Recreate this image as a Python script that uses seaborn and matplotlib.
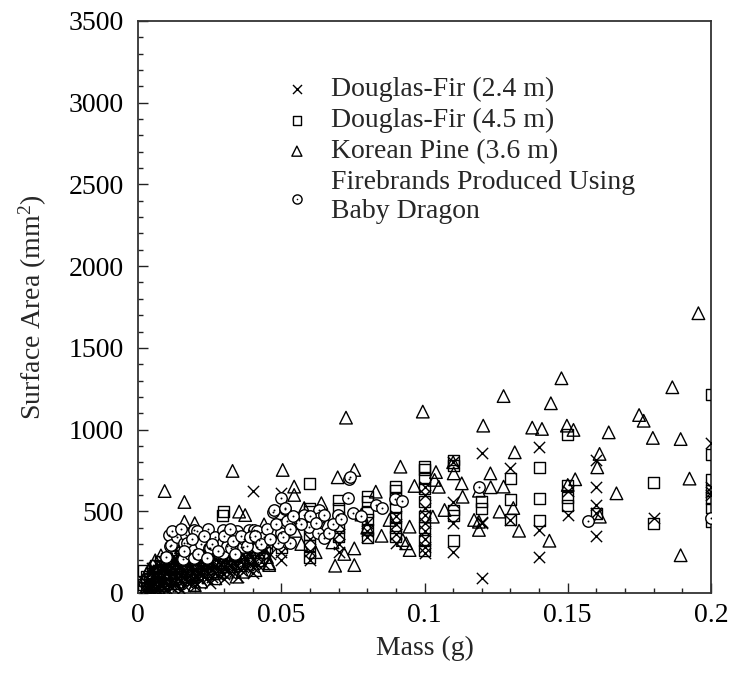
import matplotlib
matplotlib.use("Agg")
import matplotlib.pyplot as plt
import seaborn as sns
import pandas as pd
from matplotlib.ticker import MultipleLocator, FuncFormatter

# ---------------- data (mass g, surface area mm^2) ----------------
DF24 = [  # Douglas-Fir (2.4 m)  -> x markers
    (0.002, 20), (0.003, 35), (0.003, 60), (0.004, 25), (0.004, 50), (0.004, 80),
    (0.005, 40), (0.005, 70), (0.005, 100), (0.006, 30), (0.006, 55), (0.006, 90),
    (0.006, 120), (0.007, 45), (0.007, 75), (0.007, 110), (0.008, 60), (0.008, 95),
    (0.008, 130), (0.008, 40), (0.009, 70), (0.009, 105), (0.009, 145), (0.010, 55),
    (0.010, 85), (0.010, 120), (0.010, 160), (0.011, 65), (0.011, 100), (0.011, 140),
    (0.012, 80), (0.012, 115), (0.012, 155), (0.013, 70), (0.013, 105), (0.013, 135),
    (0.013, 175), (0.014, 90), (0.014, 125), (0.014, 165), (0.015, 80), (0.015, 115),
    (0.015, 150), (0.016, 100), (0.016, 140), (0.016, 185), (0.017, 95), (0.017, 130),
    (0.017, 170), (0.018, 110), (0.018, 150), (0.018, 195), (0.019, 120), (0.019, 165),
    (0.020, 105), (0.020, 140), (0.020, 180), (0.020, 215), (0.021, 130), (0.021, 170),
    (0.022, 120), (0.022, 160), (0.022, 200), (0.023, 145), (0.023, 185), (0.024, 135),
    (0.024, 175), (0.024, 220), (0.025, 150), (0.025, 195), (0.026, 140), (0.026, 180),
    (0.027, 165), (0.027, 210), (0.028, 150), (0.028, 190), (0.029, 175), (0.029, 230),
    (0.030, 160), (0.030, 200), (0.030, 250), (0.031, 185), (0.032, 170), (0.032, 215),
    (0.033, 195), (0.034, 180), (0.034, 240), (0.035, 205), (0.036, 190), (0.036, 250),
    (0.037, 220), (0.038, 200), (0.038, 265), (0.039, 235), (0.040, 210), (0.040, 280),
    (0.040, 626), (0.042, 230), (0.044, 260), (0.045, 300), (0.046, 240),
    (0.004, 10), (0.006, 15), (0.008, 20), (0.010, 25), (0.012, 35), (0.014, 45),
    (0.016, 50), (0.018, 60), (0.020, 70), (0.022, 80), (0.024, 90), (0.026, 100),
    (0.028, 110), (0.030, 115), (0.032, 125), (0.034, 135), (0.036, 140), (0.038, 150),
    (0.040, 160), (0.042, 170), (0.044, 180),
    (0.005, 150), (0.007, 170), (0.009, 190), (0.011, 200), (0.013, 215), (0.015, 230),
    (0.017, 240), (0.019, 250), (0.021, 255), (0.023, 260), (0.025, 265), (0.027, 270),
    (0.029, 275), (0.031, 280), (0.033, 290), (0.035, 295), (0.037, 300), (0.039, 310),
    (0.041, 320), (0.043, 330),
    (0.005, 130), (0.007, 140), (0.009, 160), (0.011, 180), (0.013, 195), (0.015, 205),
    (0.017, 215), (0.019, 225), (0.021, 230), (0.023, 240), (0.025, 245), (0.027, 250),
    (0.029, 255), (0.031, 260), (0.033, 265), (0.035, 270), (0.037, 275), (0.039, 285),
    (0.041, 290), (0.043, 300),
    (0.003, 10), (0.005, 15), (0.007, 20), (0.009, 30), (0.011, 40), (0.013, 50),
    (0.015, 20), (0.017, 70), (0.019, 80), (0.020, 40), (0.021, 90), (0.023, 100),
    (0.025, 60), (0.027, 120), (0.029, 130), (0.030, 85), (0.031, 140), (0.033, 150),
    (0.035, 100), (0.037, 170), (0.039, 180), (0.040, 125), (0.041, 190),
    (0.050, 200), (0.050, 250), (0.050, 300), (0.050, 350), (0.050, 400), (0.050, 610),
    (0.060, 202), (0.060, 260), (0.060, 330), (0.060, 400), (0.060, 450),
    (0.070, 250), (0.070, 300), (0.070, 360), (0.070, 420),
    (0.080, 340), (0.080, 380), (0.080, 430),
    (0.090, 304), (0.090, 360), (0.090, 420), (0.090, 470),
    (0.100, 245), (0.100, 280), (0.100, 330), (0.100, 380), (0.100, 430), (0.100, 480),
    (0.100, 520), (0.100, 600), (0.100, 650),
    (0.110, 253), (0.110, 430), (0.110, 559), (0.110, 800),
    (0.120, 90), (0.120, 427), (0.120, 436), (0.120, 855),
    (0.130, 447), (0.130, 763),
    (0.140, 222), (0.140, 386), (0.140, 895),
    (0.150, 476), (0.150, 622),
    (0.160, 349), (0.160, 488), (0.160, 538), (0.160, 647), (0.160, 814),
    (0.180, 457),
    (0.200, 600), (0.200, 620), (0.200, 650), (0.200, 916),
]

DF45 = [  # Douglas-Fir (4.5 m)  -> squares
    (0.002, 50), (0.002, 140), (0.003, 100), (0.004, 90), (0.005, 120), (0.006, 170),
    (0.007, 140), (0.008, 190), (0.009, 110), (0.010, 210), (0.011, 170), (0.012, 230),
    (0.014, 200), (0.015, 250), (0.016, 180), (0.018, 260), (0.020, 230), (0.020, 170),
    (0.022, 270), (0.024, 200), (0.025, 260), (0.027, 240), (0.0295, 477), (0.030, 290),
    (0.030, 500), (0.030, 220), (0.032, 270), (0.034, 240), (0.035, 300), (0.038, 280),
    (0.040, 250), (0.040, 320), (0.045, 280),
    (0.003, 30), (0.005, 60), (0.007, 80), (0.009, 60), (0.011, 90), (0.013, 120),
    (0.015, 100), (0.017, 140), (0.019, 110), (0.021, 150), (0.023, 180), (0.026, 130),
    (0.028, 200), (0.031, 160), (0.033, 210), (0.036, 180), (0.039, 220), (0.042, 200),
    (0.044, 250),
    (0.050, 280), (0.050, 340), (0.050, 420),
    (0.060, 220), (0.060, 290), (0.060, 360), (0.060, 430), (0.060, 500), (0.060, 520),
    (0.060, 671),
    (0.070, 345), (0.070, 400), (0.070, 460), (0.070, 520), (0.070, 569),
    (0.080, 337), (0.080, 390), (0.080, 450), (0.080, 500), (0.080, 560), (0.080, 589),
    (0.090, 345), (0.090, 400), (0.090, 460), (0.090, 520), (0.090, 580), (0.090, 630),
    (0.090, 651),
    (0.100, 260), (0.100, 320), (0.100, 400), (0.100, 470), (0.100, 560), (0.100, 640),
    (0.100, 700), (0.100, 753), (0.100, 773),
    (0.110, 324), (0.110, 477), (0.110, 508), (0.110, 783), (0.110, 814),
    (0.120, 518), (0.120, 559),
    (0.130, 447), (0.130, 573), (0.130, 702),
    (0.140, 443), (0.140, 577), (0.140, 769),
    (0.150, 538), (0.150, 587), (0.150, 661), (0.150, 971),
    (0.160, 488),
    (0.180, 427), (0.180, 675),
    (0.200, 437), (0.200, 520), (0.200, 580), (0.200, 630), (0.200, 692), (0.200, 849),
    (0.200, 1216),
]

KP36 = [  # Korean Pine (3.6 m)  -> triangles
    (0.001, 30), (0.002, 80), (0.003, 120), (0.004, 150), (0.005, 60), (0.006, 200),
    (0.007, 110), (0.008, 230), (0.0093, 624), (0.010, 180), (0.012, 250), (0.013, 90),
    (0.015, 280), (0.0162, 557), (0.0162, 436), (0.018, 150), (0.0198, 49), (0.0198, 427),
    (0.021, 300), (0.023, 200), (0.025, 330), (0.026, 120), (0.028, 260), (0.030, 360),
    (0.033, 747), (0.0344, 100), (0.0353, 498), (0.0365, 130), (0.0374, 477), (0.038, 300),
    (0.040, 380), (0.042, 250), (0.044, 420), (0.0458, 182), (0.0458, 171),
    (0.003, 40), (0.005, 110), (0.007, 160), (0.009, 50), (0.011, 130), (0.014, 60),
    (0.017, 200), (0.019, 100), (0.022, 70), (0.024, 150), (0.027, 90), (0.029, 180),
    (0.031, 130), (0.033, 230), (0.036, 170), (0.039, 210), (0.041, 140), (0.043, 290),
    (0.045, 220),
    (0.0505, 753), (0.0545, 651), (0.0545, 600), (0.052, 450), (0.055, 380), (0.057, 300),
    (0.058, 520), (0.062, 250), (0.064, 550), (0.066, 420), (0.0688, 167), (0.0679, 310),
    (0.0697, 708), (0.072, 239), (0.0726, 1073), (0.0755, 753), (0.0755, 273),
    (0.0755, 171), (0.078, 480), (0.080, 400), (0.083, 620), (0.085, 350), (0.0878, 447),
    (0.0916, 773), (0.0924, 324), (0.0936, 304), (0.0948, 406), (0.0948, 263),
    (0.0965, 655), (0.0994, 1110), (0.1035, 692), (0.1029, 467), (0.104, 740),
    (0.105, 650), (0.107, 508), (0.110, 800), (0.1102, 732), (0.113, 671), (0.1133, 589),
    (0.1173, 447), (0.119, 626), (0.119, 436), (0.119, 386), (0.1205, 1024), (0.123, 732),
    (0.1231, 647), (0.1262, 498), (0.1276, 1205), (0.1276, 651), (0.131, 520),
    (0.1315, 861), (0.133, 381), (0.1376, 1012), (0.141, 1004), (0.1436, 320),
    (0.1441, 1161), (0.1478, 1314), (0.1497, 1024), (0.150, 661), (0.152, 998),
    (0.1526, 696), (0.1603, 769), (0.1611, 851), (0.1612, 467), (0.1643, 983),
    (0.167, 610), (0.1749, 1089), (0.1765, 1054), (0.1797, 949), (0.1865, 1259),
    (0.1894, 942), (0.1894, 231), (0.1925, 700), (0.1956, 1712),
]

BABY = [  # Firebrands produced using Baby Dragon -> dotted circles
    (0.0097, 222), (0.0108, 355), (0.0111, 288), (0.0114, 294), (0.0137, 345),
    (0.0158, 206), (0.0161, 304), (0.0169, 355), (0.0172, 304), (0.018, 240),
    (0.0196, 263), (0.0196, 212), (0.0196, 386), (0.0207, 381), (0.022, 300),
    (0.0246, 392), (0.0248, 273), (0.0251, 273), (0.027, 340), (0.0295, 314),
    (0.0295, 247), (0.0297, 386), (0.031, 290), (0.0324, 273), (0.0347, 381),
    (0.0359, 283), (0.0365, 280), (0.037, 330), (0.0388, 386), (0.040, 300),
    (0.0406, 386), (0.0417, 381), (0.0417, 283), (0.0423, 324), (0.044, 345),
    (0.0472, 498), (0.0476, 508), (0.0487, 304), (0.0499, 580), (0.0499, 406),
    (0.0499, 365), (0.0513, 512), (0.0514, 518), (0.0531, 304), (0.055, 430),
    (0.0563, 447), (0.058, 480), (0.0598, 406), (0.0633, 508), (0.0633, 457),
    (0.063, 365), (0.0648, 335), (0.0668, 365), (0.0697, 477), (0.0734, 580),
    (0.0738, 696), (0.074, 710), (0.0749, 488), (0.0831, 539), (0.0898, 573),
    (0.119, 651), (0.1569, 443), (0.200, 461),
    (0.012, 380), (0.015, 390), (0.016, 260), (0.019, 330), (0.021, 240), (0.023, 350),
    (0.024, 215), (0.026, 300), (0.028, 260), (0.030, 350), (0.032, 390), (0.033, 320),
    (0.034, 240), (0.036, 350), (0.038, 290), (0.039, 340), (0.041, 350), (0.043, 300),
    (0.045, 390), (0.046, 330), (0.048, 420), (0.052, 440), (0.054, 470), (0.057, 420),
    (0.060, 470), (0.062, 430), (0.065, 480), (0.068, 420), (0.071, 450), (0.078, 470),
    (0.085, 520), (0.092, 560), (0.0505, 345), (0.053, 390),
]

LABELS = ["Douglas-Fir (2.4 m)", "Douglas-Fir (4.5 m)", "Korean Pine (3.6 m)",
          "Firebrands Produced Using\nBaby Dragon"]
X_TICKS = [0, 0.05, 0.1, 0.15, 0.2]
Y_TICKS = [0, 500, 1000, 1500, 2000, 2500, 3000, 3500]


def frame(pairs):
    return pd.DataFrame(pairs, columns=["mass", "area"])


sns.set_theme(style="ticks")
plt.rcParams["font.family"] = ["Liberation Serif", "DejaVu Serif"]
plt.rcParams["mathtext.fontset"] = "custom"
plt.rcParams["mathtext.rm"] = "Liberation Serif"
plt.rcParams["mathtext.default"] = "regular"

FS = 20
fig = plt.figure(figsize=(7.3, 6.77), dpi=100)
ax = fig.add_axes([138 / 730, 1 - 593 / 677, 573 / 730, 572 / 677])

lw = 1.0
sns.scatterplot(data=frame(DF24), x="mass", y="area", marker="x", s=66,
                color="black", linewidth=lw, ax=ax, legend=False, zorder=3)
h1 = ax.collections[-1]
sns.scatterplot(data=frame(DF45), x="mass", y="area", marker="s", s=62,
                facecolor="none", edgecolor="black", linewidth=lw, ax=ax,
                legend=False, zorder=3)
h2 = ax.collections[-1]
sns.scatterplot(data=frame(KP36), x="mass", y="area", marker="^", s=82,
                facecolor="none", edgecolor="black", linewidth=lw, ax=ax,
                legend=False, zorder=3)
h3 = ax.collections[-1]
sns.scatterplot(data=frame(BABY), x="mass", y="area", marker="o", s=68,
                facecolor="white", edgecolor="black", linewidth=lw, ax=ax,
                legend=False, zorder=4)
h4a = ax.collections[-1]
sns.scatterplot(data=frame(BABY), x="mass", y="area", marker="o", s=2,
                facecolor="black", edgecolor="black", linewidth=0, ax=ax,
                legend=False, zorder=5)
h4b = ax.collections[-1]

ax.set_xlim(0, 0.2)
ax.set_ylim(0, 3500)
ax.set_xticks(X_TICKS)
ax.set_yticks(Y_TICKS)
ax.xaxis.set_major_formatter(FuncFormatter(lambda v, p: f"{v:g}"))
ax.yaxis.set_major_formatter(FuncFormatter(lambda v, p: f"{v:g}"))
ax.xaxis.set_minor_locator(MultipleLocator(0.01))
ax.yaxis.set_minor_locator(MultipleLocator(100))
ax.tick_params(which="both", direction="in", top=False, right=False,
               colors="#222222", labelcolor="black", labelsize=FS, width=1.0)
ax.tick_params(which="major", length=7)
ax.tick_params(which="minor", length=3.6)
ax.tick_params(axis="x", which="major", pad=7)
ax.tick_params(axis="y", which="major", pad=10)
for sp in ax.spines.values():
    sp.set_linewidth(1.3)
    sp.set_color("#333333")

ax.set_xlabel("Mass (g)", fontsize=FS, labelpad=6)
ax.set_ylabel("Surface Area (mm$^2$)", fontsize=FS, labelpad=14)

ax.legend([h1, h2, h3, (h4a, h4b)], LABELS, loc="upper left",
          bbox_to_anchor=(283 / 730, 1 - 77 / 677), bbox_transform=fig.transFigure,
          frameon=False, fontsize=FS, handlelength=1.0, handletextpad=0.72,
          labelspacing=0.2, borderpad=0, borderaxespad=0, markerscale=0.8)

fig.savefig("out.png", dpi=100)
